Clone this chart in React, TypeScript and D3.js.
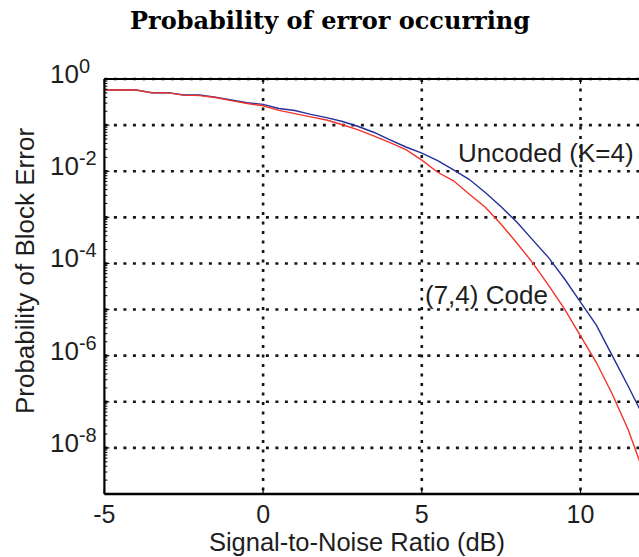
import React, { useEffect, useRef } from 'react';
import * as d3 from 'd3';

// Signal-to-noise ratio (dB) sample points
const snrDb = [
  -5, -4.5, -4, -3.5, -3, -2.5, -2, -1.5, -1, -0.5, 0, 0.5, 1, 1.5, 2, 2.5, 3, 3.5,
  4, 4.5, 5, 5.5, 6, 6.5, 7, 7.5, 8, 8.5, 9, 9.5, 10, 10.5, 11, 11.5, 12,
];

// Uncoded (K=4) block error probability
const uncodedErr = [
  0.577, 0.577, 0.577, 0.505, 0.505, 0.45, 0.45, 0.401, 0.35, 0.306, 0.282, 0.229,
  0.207, 0.171, 0.145, 0.12, 0.0933, 0.0692, 0.0479, 0.0335, 0.0248, 0.017, 0.0107,
  6.6e-3, 3.47e-3, 1.7e-3, 7.8e-4, 3.2e-4, 1.32e-4, 4.6e-5, 1.45e-5, 4.6e-6, 1.0e-6,
  2.2e-7, 4.5e-8,
];

// (7,4) Hamming code block error probability
const codedErr = [
  0.577, 0.577, 0.577, 0.5, 0.5, 0.447, 0.437, 0.398, 0.339, 0.295, 0.263, 0.209,
  0.178, 0.151, 0.129, 0.102, 0.0785, 0.0575, 0.0417, 0.0295, 0.0174, 9.5e-3, 6.2e-3,
  3.16e-3, 1.66e-3, 7.1e-4, 2.75e-4, 1.02e-4, 3.3e-5, 1.02e-5, 2.7e-6, 7.1e-7, 1.48e-7,
  2.5e-8, 2.8e-9,
];

const xTicks = [-5, 0, 5, 10];
const xGridTicks = [0, 5, 10];
const decades = [0, -1, -2, -3, -4, -5, -6, -7, -8];
const labeledDecades = [0, -2, -4, -6, -8];

const App: React.FC = () => {
  const svgRef = useRef<SVGSVGElement>(null);

  useEffect(() => {
    if (!svgRef.current) return;
    d3.select(svgRef.current).selectAll('*').remove();

    const width = 639;
    const height = 557;
    const left = 104.4;
    const top = 79;
    const bottom = 494;
    const right = left + 17 * 31.74;

    const font = 'Liberation Sans, Arial, Helvetica, sans-serif';
    const textColor = '#1e1e1e';
    const gridColor = '#151515';
    const blue = '#24309a';
    const red = '#f2352a';

    const svg = d3.select(svgRef.current).attr('width', width).attr('height', height);

    const x = d3.scaleLinear().domain([-5, 12]).range([left, right]);
    const y = d3.scaleLog().domain([1e-9, 1]).range([bottom, top]);

    svg.append('defs').append('clipPath').attr('id', 'plotClip')
      .append('rect')
      .attr('x', left).attr('y', top)
      .attr('width', right - left).attr('height', bottom - top);

    // title
    svg.append('text')
      .attr('x', 330).attr('y', 29)
      .attr('text-anchor', 'middle')
      .attr('font-family', 'DejaVu Serif, serif')
      .attr('font-weight', 'bold')
      .attr('font-size', 24)
      .attr('fill', '#000')
      .text('Probability of error occurring');

    // grid
    decades.forEach(d => {
      svg.append('line')
        .attr('x1', left).attr('x2', right)
        .attr('y1', y(Math.pow(10, d))).attr('y2', y(Math.pow(10, d)))
        .attr('stroke', gridColor).attr('stroke-width', 2.6)
        .attr('stroke-dasharray', '3,6.5');
    });
    xGridTicks.forEach(t => {
      svg.append('line')
        .attr('x1', x(t)).attr('x2', x(t))
        .attr('y1', top).attr('y2', bottom)
        .attr('stroke', gridColor).attr('stroke-width', 2.6)
        .attr('stroke-dasharray', '3,6.5');
    });

    // curves
    const line = d3.line<number>()
      .x((_, i) => x(snrDb[i]))
      .y(d => y(d));

    const g = svg.append('g').attr('clip-path', 'url(#plotClip)');
    g.append('path')
      .attr('d', line(uncodedErr))
      .attr('fill', 'none').attr('stroke', blue).attr('stroke-width', 1.4);
    g.append('path')
      .attr('d', line(codedErr))
      .attr('fill', 'none').attr('stroke', red).attr('stroke-width', 1.4);

    // axes frame
    svg.append('line').attr('x1', left).attr('x2', right).attr('y1', top).attr('y2', top)
      .attr('stroke', '#000').attr('stroke-width', 2);
    svg.append('line').attr('x1', left).attr('x2', right).attr('y1', bottom).attr('y2', bottom)
      .attr('stroke', '#000').attr('stroke-width', 2.5);
    svg.append('line').attr('x1', left).attr('x2', left).attr('y1', top).attr('y2', bottom)
      .attr('stroke', '#000').attr('stroke-width', 2.2);

    // y ticks (major + minor)
    for (let d = -9; d <= 0; d++) {
      svg.append('line')
        .attr('x1', left).attr('x2', left + 5)
        .attr('y1', y(Math.pow(10, d))).attr('y2', y(Math.pow(10, d)))
        .attr('stroke', '#000').attr('stroke-width', 1.2);
      if (d < 0) {
        for (let k = 2; k <= 9; k++) {
          const v = k * Math.pow(10, d);
          svg.append('line')
            .attr('x1', left).attr('x2', left + 3)
            .attr('y1', y(v)).attr('y2', y(v))
            .attr('stroke', '#000').attr('stroke-width', 1);
        }
      }
    }

    // x ticks
    xTicks.forEach(t => {
      svg.append('line')
        .attr('x1', x(t)).attr('x2', x(t))
        .attr('y1', bottom).attr('y2', bottom - 5)
        .attr('stroke', '#000').attr('stroke-width', 1.2);
      svg.append('line')
        .attr('x1', x(t)).attr('x2', x(t))
        .attr('y1', top).attr('y2', top + 5)
        .attr('stroke', '#000').attr('stroke-width', 1.2);
      svg.append('text')
        .attr('x', x(t)).attr('y', 523)
        .attr('text-anchor', 'middle')
        .attr('font-family', font).attr('font-size', 25)
        .attr('fill', textColor)
        .text(String(t));
    });

    // y tick labels: 10^d
    labeledDecades.forEach(d => {
      const ty = y(Math.pow(10, d));
      const label = svg.append('text')
        .attr('x', 50).attr('y', ty + 4)
        .attr('font-family', font).attr('font-size', 26)
        .attr('fill', textColor);
      label.append('tspan').text('10');
      label.append('tspan')
        .attr('font-size', 20)
        .attr('dy', -10)
        .text(String(d));
    });

    // axis labels
    svg.append('text')
      .attr('x', 357).attr('y', 551)
      .attr('text-anchor', 'middle')
      .attr('font-family', font).attr('font-size', 25.5)
      .attr('fill', textColor)
      .text('Signal-to-Noise Ratio (dB)');

    svg.append('text')
      .attr('transform', 'translate(34,271) rotate(-90)')
      .attr('text-anchor', 'middle')
      .attr('font-family', font).attr('font-size', 26)
      .attr('fill', textColor)
      .text('Probability of Block Error');

    // curve annotations
    svg.append('text')
      .attr('x', 458).attr('y', 162)
      .attr('font-family', font).attr('font-size', 26)
      .attr('fill', textColor)
      .text('Uncoded (K=4)');
    svg.append('text')
      .attr('x', 425).attr('y', 304)
      .attr('font-family', font).attr('font-size', 26)
      .attr('fill', textColor)
      .text('(7,4) Code');
  }, []);

  return (
    <div style={{ position: 'absolute', left: 0, top: 0 }}>
      <svg ref={svgRef} style={{ display: 'block' }}></svg>
    </div>
  );
};

export default App;
